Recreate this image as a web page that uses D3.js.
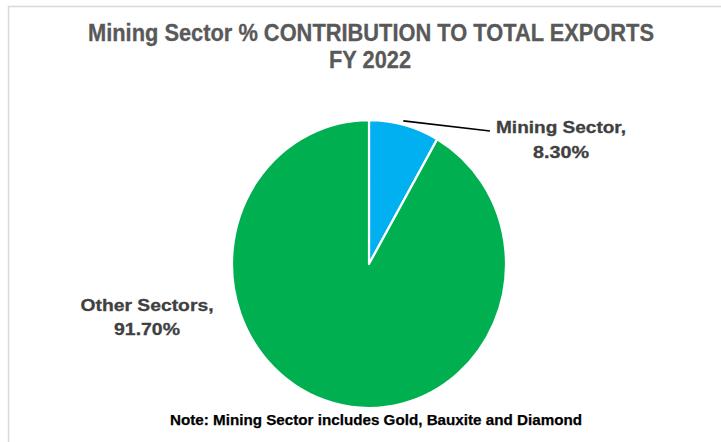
<!DOCTYPE html>
<html>
<head>
<meta charset="utf-8">
<script src="https://cdn.jsdelivr.net/npm/d3@7/dist/d3.min.js"></script>
<style>
  html, body { margin: 0; padding: 0; background: #ffffff; }
  svg { display: block; }
</style>
</head>
<body>
<svg id="chart" width="721" height="442"></svg>
<script>
// Export shares, FY 2022
const categories = ["Mining Sector", "Other Sectors"];
const values = [8.3, 91.7];
const colors = ["#00B0F0", "#00B050"];
const titleLines = ["Mining Sector % CONTRIBUTION TO TOTAL EXPORTS", "FY 2022"];
const note = "Note: Mining Sector includes Gold, Bauxite and Diamond";

const svg = d3.select("#chart");

// chart area frame
svg.append("rect")
  .attr("x", 8.5).attr("y", 6.5)
  .attr("width", 760).attr("height", 460)
  .attr("fill", "#ffffff")
  .attr("stroke", "#d9d9d9")
  .attr("stroke-width", 1.5);

// title (condensed bold)
const title = svg.append("g")
  .attr("font-family", "'Liberation Sans Narrow', 'Arial Narrow', 'Liberation Sans', Arial, sans-serif")
  .attr("font-weight", "bold")
  .attr("font-size", 23)
  .attr("fill", "#595959")
  .attr("stroke", "#595959")
  .attr("stroke-width", 0.3)
  .attr("text-anchor", "middle");
title.append("text").attr("x", 371).attr("y", 41).text(titleLines[0])
  .attr("textLength", 566).attr("lengthAdjust", "spacingAndGlyphs");
title.append("text").attr("x", 370).attr("y", 68).text(titleLines[1])
  .attr("textLength", 82).attr("lengthAdjust", "spacingAndGlyphs");

// pie
const cx = 369, cy = 264, rx = 137, ry = 144;
const pie = d3.pie().sort(null).value(d => d)(values);
const arc = d3.arc().innerRadius(0).outerRadius(rx);

const g = svg.append("g")
  .attr("transform", `translate(${cx},${cy}) scale(1,${ry / rx})`);
g.selectAll("path")
  .data(pie)
  .join("path")
  .attr("d", arc)
  .attr("fill", (d, i) => colors[i])
  .attr("stroke", "#ffffff")
  .attr("stroke-width", 2.2)
  .attr("stroke-linejoin", "round");

// leader line for the small slice
const mid = (pie[0].startAngle + pie[0].endAngle) / 2;
const px = cx + Math.sin(mid) * rx;
const py = cy - Math.cos(mid) * ry;
svg.append("polyline")
  .attr("points", `${px - 1},${py - 4} ${490},${131}`)
  .attr("fill", "none")
  .attr("stroke", "#000000")
  .attr("stroke-width", 1.6);

// data labels
const lab = svg.append("g")
  .attr("font-family", "'Liberation Sans', Arial, sans-serif")
  .attr("font-weight", "bold")
  .attr("font-size", 17)
  .attr("fill", "#404040")
  .attr("stroke", "#404040")
  .attr("stroke-width", 0.3)
  .attr("text-anchor", "middle");

const labelSpecs = [
  { x: 561, y1: 133, y2: 158, w: 130, w2: 56 },
  { x: 147, y1: 311, y2: 335, w: 133, w2: 66 }
];
pie.forEach((d, i) => {
  const s = labelSpecs[i];
  lab.append("text").attr("x", s.x).attr("y", s.y1)
    .text(categories[i] + ",")
    .attr("textLength", s.w).attr("lengthAdjust", "spacingAndGlyphs");
  lab.append("text").attr("x", s.x).attr("y", s.y2)
    .text(d3.format(".2f")(values[i]) + "%")
    .attr("textLength", s.w2).attr("lengthAdjust", "spacingAndGlyphs");
});

// footnote
svg.append("text")
  .attr("x", 376).attr("y", 425)
  .attr("text-anchor", "middle")
  .attr("font-family", "'Liberation Sans', Arial, sans-serif")
  .attr("font-weight", "bold")
  .attr("font-size", 15)
  .attr("fill", "#000000")
  .attr("stroke", "#000000")
  .attr("stroke-width", 0.25)
  .attr("textLength", 412).attr("lengthAdjust", "spacingAndGlyphs")
  .text(note);
</script>
</body>
</html>
